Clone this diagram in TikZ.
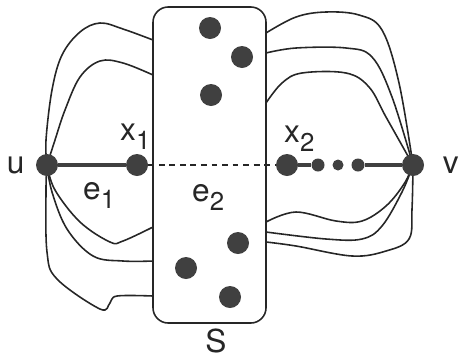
\documentclass[tikz,border=0pt]{standalone}
\usepackage{fontspec}
\setmainfont{TeX Gyre Heros}
\usetikzlibrary{positioning}

\newcommand{\lsub}[2]{#1\raisebox{-8pt}{\fontsize{22}{24}\selectfont #2}}

\begin{document}
\begin{tikzpicture}[
				x=0.03cm, y=-0.03cm,
				every node/.style={font=\fontsize{27}{30}\selectfont, text=black!85},
				vertex/.style={
					circle,
					fill=black!75,
					inner sep=0pt,
					minimum size=0.66cm
				},
				minor/.style={
					circle,
					fill=black!75,
					inner sep=0pt,
					minimum size=0.39cm
				},
				route/.style={
					draw=black!85,
					line width=1.35pt,
					smooth,
					tension=0.6
				},
				sepbox/.style={
					draw=black!85,
					line width=1.35pt,
					rounded corners=13pt,
					inner sep=0pt,
					minimum width=3.39cm,
					minimum height=9.48cm
				}
				]
				\useasboundingbox (0,0) rectangle (459,359);
				
				\node[sepbox] (S) at (209.5,165) {};
				\node[inner sep=0pt] (slab) at (216,341) {S};
				
				% path vertices
				\coordinate (u) at (47,165);
				\coordinate (v) at (413,165);
				
				% routes from u to S
				\draw[route] plot coordinates {(u) (46,140) (52,90) (62,55) (80,32) (100,23) (123,29) (153,40)};
				\draw[route] plot coordinates {(u) (55,140) (65,110) (80,77) (100,61) (123,63) (153,75)};
				\draw[route] plot coordinates {(u) (55,190) (80,222) (110,242) (123,241) (153,227)};
				\draw[route] plot coordinates {(u) (52,192) (67,229) (93,256) (123,261) (153,261)};
				\draw[route] plot coordinates {(u) (46,190) (47,252) (57,279) (100,309) (110,303) (117,296) (153,296)};
				
				% routes from S to v
				\draw[route] plot coordinates {(266,33) (296,17) (326,12) (359,15) (382,30) (399,83) (v)};
				\draw[route] plot coordinates {(266,53) (296,48) (346,48) (372,57) (392,97) (v)};
				\draw[route] plot coordinates {(266,103) (282,83) (302,73) (346,73) (369,87) (386,117) (v)};
				\draw[route] plot coordinates {(266,222) (296,212) (336,221) (362,221) (386,206) (404,184) (v)};
				\draw[route] plot coordinates {(266,232) (326,239) (362,239) (382,226) (402,192) (v)};
				\draw[route] plot coordinates {(266,242) (296,246) (352,256) (386,251) (409,239) (412,209) (v)};
				
				\node[vertex] (unode) at (u) {};
				\node[vertex] (x1) at (137,165) {};
				\node[vertex] (x2) at (287,165) {};
				\node[minor] (d1) at (318,165) {};
				\node[minor,minimum size=0.33cm] (d2) at (338,165) {};
				\node[minor] (d3) at (358,165) {};
				\node[vertex] (vnode) at (v) {};
				
				% inside S
				\foreach \p/\q in {210/28, 242/57, 211/95, 238/243, 186/268, 230/297}
				\node[vertex] at (\p,\q) {};
				
				\draw[line width=3.4pt, draw=black!75] (unode) -- (x1);
				\draw[line width=1.2pt, draw=black!85, dash pattern=on 5pt off 4pt] (x1) -- (x2);
				\draw[line width=2.8pt, draw=black!75] (x2) -- (d1);
				\draw[line width=2.8pt, draw=black!75] (d3) -- (vnode);
				
				\node[inner sep=0pt,left=0.33cm of unode] (ulab) {u};
				\node[inner sep=0pt,right=0.55cm of vnode] (vlab) {v};
				\node[inner sep=0pt,anchor=base west] (x1lab) at (120,140) {\lsub{x}{1}};
				\node[inner sep=0pt,anchor=base west] (x2lab) at (284,142) {\lsub{x}{2}};
				\node[inner sep=0pt,anchor=base west] (e1lab) at (83,199) {\lsub{e}{1}};
				\node[inner sep=0pt,anchor=base west] (e2lab) at (192,201) {\lsub{e}{2}};
			\end{tikzpicture}
\end{document}
